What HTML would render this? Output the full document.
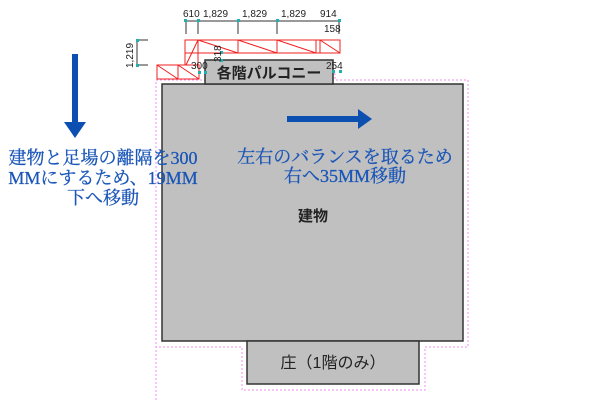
<!DOCTYPE html>
<html><head><meta charset="utf-8"><style>
html,body{margin:0;padding:0;background:#fff;}
svg{display:block}
.serif{font-family:"Liberation Serif","Noto Serif CJK SC",serif;}
.sans{font-family:"Liberation Sans","Noto Sans CJK JP",sans-serif;}
</style></head><body>
<svg width="600" height="400" viewBox="0 0 600 400" xmlns="http://www.w3.org/2000/svg">
<polyline points="156,400 156,80 205,80 205,74 335,74 335,80 468,80 468,347 425,347 425,390 242,390 242,347 156,347" fill="none" stroke="#f08cf0" stroke-width="1" stroke-dasharray="2,2"/>
<rect x="162" y="84" width="301" height="257" fill="#c0c0c0" stroke="#333" stroke-width="1.5"/>
<rect x="205" y="60" width="128" height="24" fill="#c0c0c0" stroke="#333" stroke-width="1.5"/>
<rect x="247" y="341" width="172" height="43" fill="#c0c0c0" stroke="#333" stroke-width="1.5"/>
<g fill="#222" class="sans">
<text x="269" y="78" style="font-size:15px;font-weight:bold" text-anchor="middle">各階パルコニー</text>
<text x="313" y="221" style="font-size:15px;font-weight:bold" text-anchor="middle">建物</text>
<text x="333" y="368" style="font-size:16px" text-anchor="middle">庄（1階のみ）</text>
</g>
<g stroke="#f02020" stroke-width="1" fill="none">
<rect x="185" y="40" width="155" height="13"/>
<line x1="198" y1="40" x2="198" y2="53"/><line x1="238" y1="40" x2="238" y2="53"/><line x1="277" y1="40" x2="277" y2="53"/>
<line x1="316" y1="40" x2="316" y2="53"/><line x1="320" y1="40" x2="320" y2="53"/>
<line x1="198" y1="40" x2="238" y2="53"/><line x1="238" y1="40" x2="277" y2="53"/><line x1="277" y1="40" x2="316" y2="53"/><line x1="320" y1="40" x2="340" y2="53"/>
<line x1="198" y1="53" x2="198" y2="65"/><line x1="185" y1="53" x2="185" y2="65"/>
<line x1="198" y1="40" x2="186" y2="65"/>
<rect x="157" y="65" width="42" height="14"/>
<line x1="178" y1="65" x2="178" y2="79"/>
<line x1="157" y1="65" x2="178" y2="79"/><line x1="178" y1="65" x2="199" y2="79"/>
</g>
<g stroke="#333" stroke-width="1">
<line x1="186" y1="21" x2="339" y2="21"/>
<line x1="186" y1="21" x2="186" y2="34"/><line x1="198" y1="21" x2="198" y2="34"/><line x1="238" y1="21" x2="238" y2="34"/><line x1="277" y1="21" x2="277" y2="34"/><line x1="339" y1="21" x2="339" y2="34"/>
<line x1="137" y1="40" x2="148" y2="40"/><line x1="137" y1="65" x2="148" y2="65"/><line x1="137" y1="40" x2="137" y2="65"/>
</g>
<g fill="#20b0b0"><rect x="184" y="19" width="3" height="3"/><rect x="197" y="19" width="3" height="3"/><rect x="237" y="19" width="3" height="3"/><rect x="276" y="19" width="3" height="3"/><rect x="338" y="19" width="3" height="3"/><rect x="136" y="39" width="3" height="3"/><rect x="136" y="64" width="3" height="3"/><rect x="198" y="71" width="3" height="3"/><rect x="204" y="71" width="3" height="3"/><rect x="220" y="51" width="3" height="3"/><rect x="220" y="59" width="3" height="3"/><rect x="332" y="70" width="3" height="3"/><rect x="339" y="70" width="3" height="3"/></g>
<g class="sans" style="font-size:10px" fill="#222">
<text x="183" y="17">610</text><text x="203" y="17">1,829</text><text x="242" y="17">1,829</text><text x="281" y="17">1,829</text><text x="320" y="17">914</text>
<text x="324" y="32">158</text>
<text x="191" y="69">300</text><text x="326" y="69">254</text>
<text transform="translate(133,68) rotate(-90)">1,219</text>
<text transform="translate(221,62) rotate(-90)">318</text>
</g>
<g fill="#0b4fb0">
<rect x="72" y="54" width="6" height="70"/>
<polygon points="64,122 86,122 75,138"/>
<rect x="287" y="116" width="73" height="6"/>
<polygon points="358,109 372,119 358,129"/>
</g>
<g class="serif" fill="#1a56b8" style="font-size:18px" text-anchor="middle" stroke="#1a56b8" stroke-width="0.3">
<text x="103" y="164">建物と足場の離隔を300</text>
<text x="103" y="184">MMにするため、19MM</text>
<text x="103" y="204">下へ移動</text>
<text x="345" y="163">左右のバランスを取るため</text>
<text x="345" y="182">右へ35MM移動</text>
</g>
</svg>
</body></html>
